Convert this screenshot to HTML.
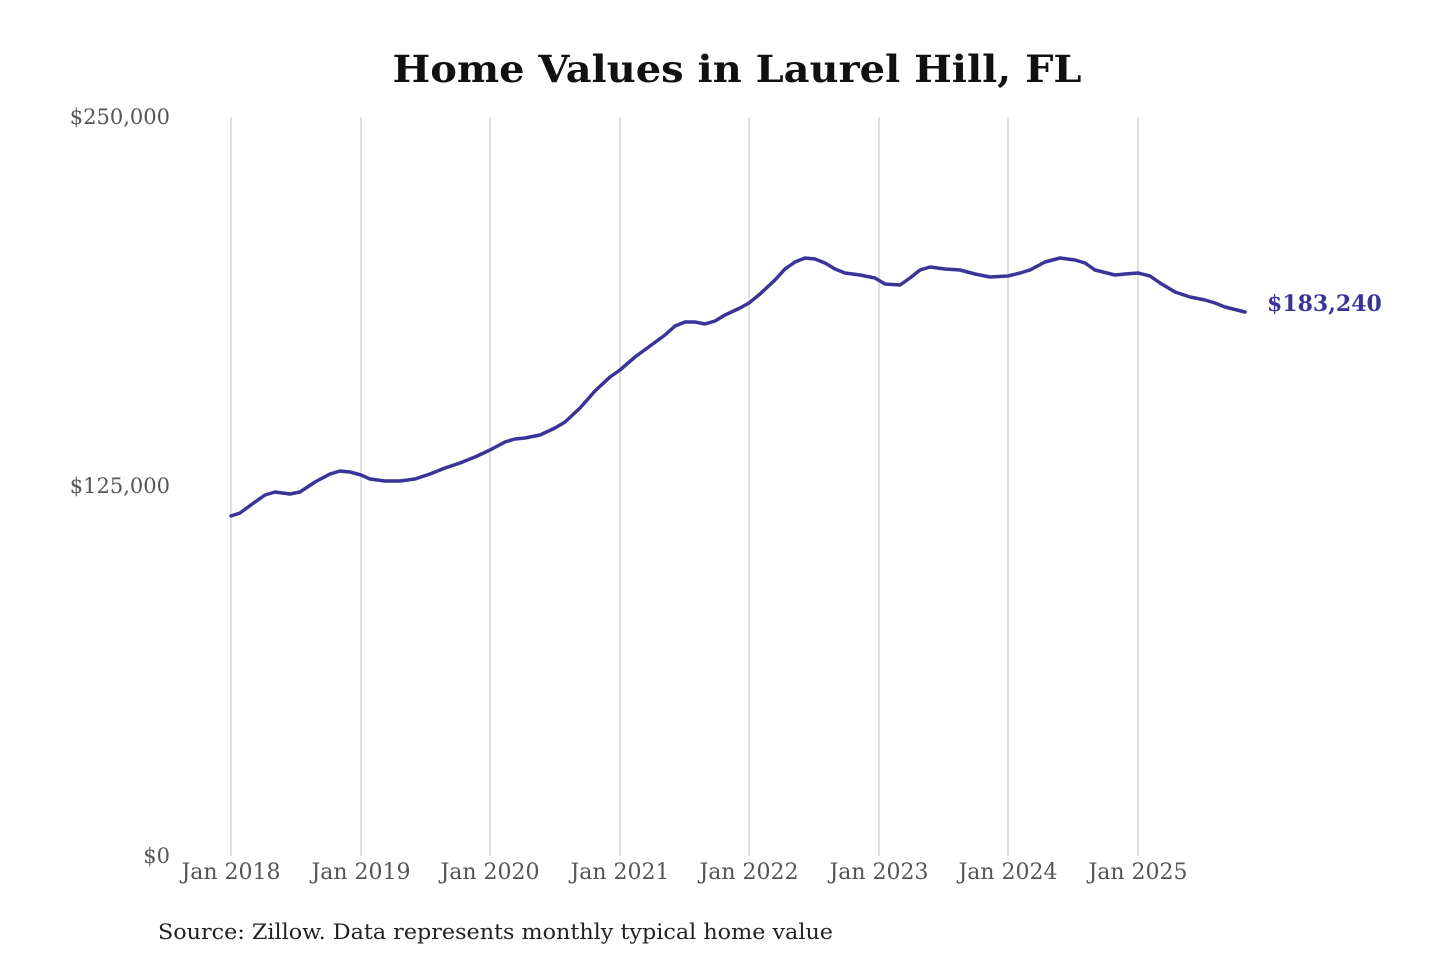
<!DOCTYPE html>
<html><head><style>
html,body{margin:0;padding:0;background:#fff;}
svg{display:block;}
</style></head><body>
<svg width="1440" height="960" xmlns="http://www.w3.org/2000/svg" font-family="'DejaVu Serif','Liberation Serif',serif">
<rect width="1440" height="960" fill="#fff"/>
<text x="737" y="82" text-anchor="middle" font-size="37" font-weight="bold" fill="#111" textLength="689" lengthAdjust="spacingAndGlyphs">Home Values in Laurel Hill, FL</text>
<g stroke="#c0c0c0" stroke-width="1">
<line x1="231" y1="117" x2="231" y2="856"/><line x1="361" y1="117" x2="361" y2="856"/>
<line x1="490" y1="117" x2="490" y2="856"/><line x1="620" y1="117" x2="620" y2="856"/>
<line x1="749" y1="117" x2="749" y2="856"/><line x1="879" y1="117" x2="879" y2="856"/>
<line x1="1008" y1="117" x2="1008" y2="856"/><line x1="1138" y1="117" x2="1138" y2="856"/>
</g>
<g font-size="21" fill="#555" text-anchor="end">
<text x="170" y="124">$250,000</text><text x="170" y="493">$125,000</text><text x="170" y="863">$0</text>
</g>
<g font-size="22" fill="#555" text-anchor="middle">
<text x="231" y="879">Jan 2018</text><text x="361" y="879">Jan 2019</text><text x="490" y="879">Jan 2020</text>
<text x="620" y="879">Jan 2021</text><text x="749" y="879">Jan 2022</text><text x="879" y="879">Jan 2023</text>
<text x="1008" y="879">Jan 2024</text><text x="1138" y="879">Jan 2025</text>
</g>
<polyline fill="none" stroke="#3a3398" stroke-width="3.5" stroke-linejoin="round" stroke-linecap="round" points="231,516 240,513 255,502 265,495 275,492 290,494 300,492 315,482 330,474 340,471 350,472 361,475 370,479 385,481 400,481 415,479 430,474 445,468 460,463 475,457 490,450 505,442 515,439 525,438 540,435 555,428 565,422 580,408 595,391 610,377 620,370 635,357 650,346 665,335 675,326 685,322 695,322 705,324 715,321 725,315 740,308 749,303 760,294 775,280 785,269 795,262 805,258 815,259 825,263 835,269 845,273 860,275 875,278 885,284 900,285 910,278 920,270 930,267 945,269 960,270 975,274 990,277 1008,276 1020,273 1030,270 1045,262 1060,258 1075,260 1085,263 1095,270 1115,275 1125,274 1138,273 1150,276 1160,283 1175,292 1190,297 1205,300 1215,303 1225,307 1245,312"/>
<text x="1267" y="311" font-size="22" font-weight="bold" fill="#3a3398">$183,240</text>
<text x="158" y="939" font-size="21" fill="#222" textLength="675" lengthAdjust="spacingAndGlyphs">Source: Zillow. Data represents monthly typical home value</text>
</svg>
</body></html>
